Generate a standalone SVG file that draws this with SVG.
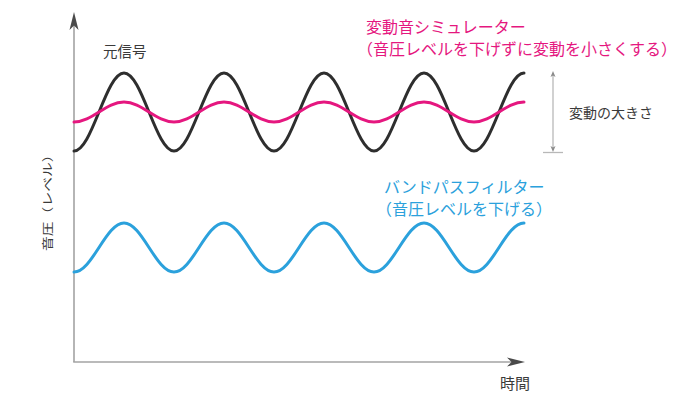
<svg xmlns="http://www.w3.org/2000/svg" width="700" height="394" viewBox="0 0 700 394">
<style>
text{font-family:"Noto Sans CJK JP","Noto Sans",sans-serif;}
.dark{fill:#3a3a3a;font-size:14.5px;}
.pink{fill:#e5177f;font-size:16px;}
.blue{fill:#2ba1dc;font-size:16px;}
.wave{fill:none;stroke-width:3;stroke-linecap:round;stroke-linejoin:round;}
.axis{stroke:#a3a3a3;stroke-width:1.6;fill:none;}
.dim{stroke:#b8b8b8;stroke-width:1.3;fill:none;}
</style>
<rect width="700" height="394" fill="#ffffff"/>
<g id="connectors">
  <line class="axis" x1="74" y1="24" x2="74" y2="362"/>
  <line class="axis" x1="73.2" y1="362" x2="512" y2="362"/>
  <path d="M74,12 L78.5,30 L74,25.5 L69.5,30 Z" fill="#4a4a4a"/>
  <path d="M525,362 L507,357.5 L511.5,362 L507,366.5 Z" fill="#4a4a4a"/>
  <line class="dim" x1="553" y1="74" x2="553" y2="150"/>
  <line class="dim" x1="543" y1="152.5" x2="563" y2="152.5"/>
  <path d="M553,71 L555.5,77 L553,75.5 L550.5,77 Z" fill="#8a8a8a"/>
  <path d="M553,152 L555.5,146 L553,147.5 L550.5,146 Z" fill="#8a8a8a"/>
</g>
<g id="original-signal">
  <path class="wave" stroke="#2e2e2e" d="M74,151 c9.05,0 16.85,-19.02 25,-39 s15.95,-39 25,-39 s16.85,19.02 25,39 s15.95,39 25,39 s16.85,-19.02 25,-39 s15.95,-39 25,-39 s16.85,19.02 25,39 s15.95,39 25,39 s16.85,-19.02 25,-39 s15.95,-39 25,-39 s16.85,19.02 25,39 s15.95,39 25,39 s16.85,-19.02 25,-39 s15.95,-39 25,-39 s16.85,19.02 25,39 s15.95,39 25,39 s16.85,-19.02 25,-39 s15.95,-39 25,-39"/>
  <text class="dark" x="103" y="57">元信号</text>
</g>
<g id="simulator">
  <path class="wave" stroke="#e5177f" d="M74,122 c9.05,0 16.85,-4.88 25,-10 s15.95,-10 25,-10 s16.85,4.88 25,10 s15.95,10 25,10 s16.85,-4.88 25,-10 s15.95,-10 25,-10 s16.85,4.88 25,10 s15.95,10 25,10 s16.85,-4.88 25,-10 s15.95,-10 25,-10 s16.85,4.88 25,10 s15.95,10 25,10 s16.85,-4.88 25,-10 s15.95,-10 25,-10 s16.85,4.88 25,10 s15.95,10 25,10 s16.85,-4.88 25,-10 s15.95,-10 25,-10"/>
  <text class="pink" x="366" y="33">変動音シミュレーター</text>
  <text class="pink" x="357" y="55">（音圧レベルを下げずに変動を小さくする）</text>
</g>
<g id="bandpass">
  <path class="wave" stroke="#2ba1dc" d="M74,272 c9.05,0 16.85,-11.95 25,-24.5 s15.95,-24.5 25,-24.5 s16.85,11.95 25,24.5 s15.95,24.5 25,24.5 s16.85,-11.95 25,-24.5 s15.95,-24.5 25,-24.5 s16.85,11.95 25,24.5 s15.95,24.5 25,24.5 s16.85,-11.95 25,-24.5 s15.95,-24.5 25,-24.5 s16.85,11.95 25,24.5 s15.95,24.5 25,24.5 s16.85,-11.95 25,-24.5 s15.95,-24.5 25,-24.5 s16.85,11.95 25,24.5 s15.95,24.5 25,24.5 s16.85,-11.95 25,-24.5 s15.95,-24.5 25,-24.5"/>
  <text class="blue" x="384" y="193">バンドパスフィルター</text>
  <text class="blue" x="376" y="215">（音圧レベルを下げる）</text>
</g>
<g id="amplitude-label">
  <text class="dark" x="569" y="118" style="font-size:14px">変動の大きさ</text>
</g>
<g id="y-axis-label">
  <text class="dark" transform="translate(51.5,251) rotate(-90) scale(1,0.78)" style="font-size:14.8px">音圧（レベル）</text>
</g>
<g id="x-axis-label">
  <text class="dark" x="500" y="389" style="font-size:15px">時間</text>
</g>
</svg>
